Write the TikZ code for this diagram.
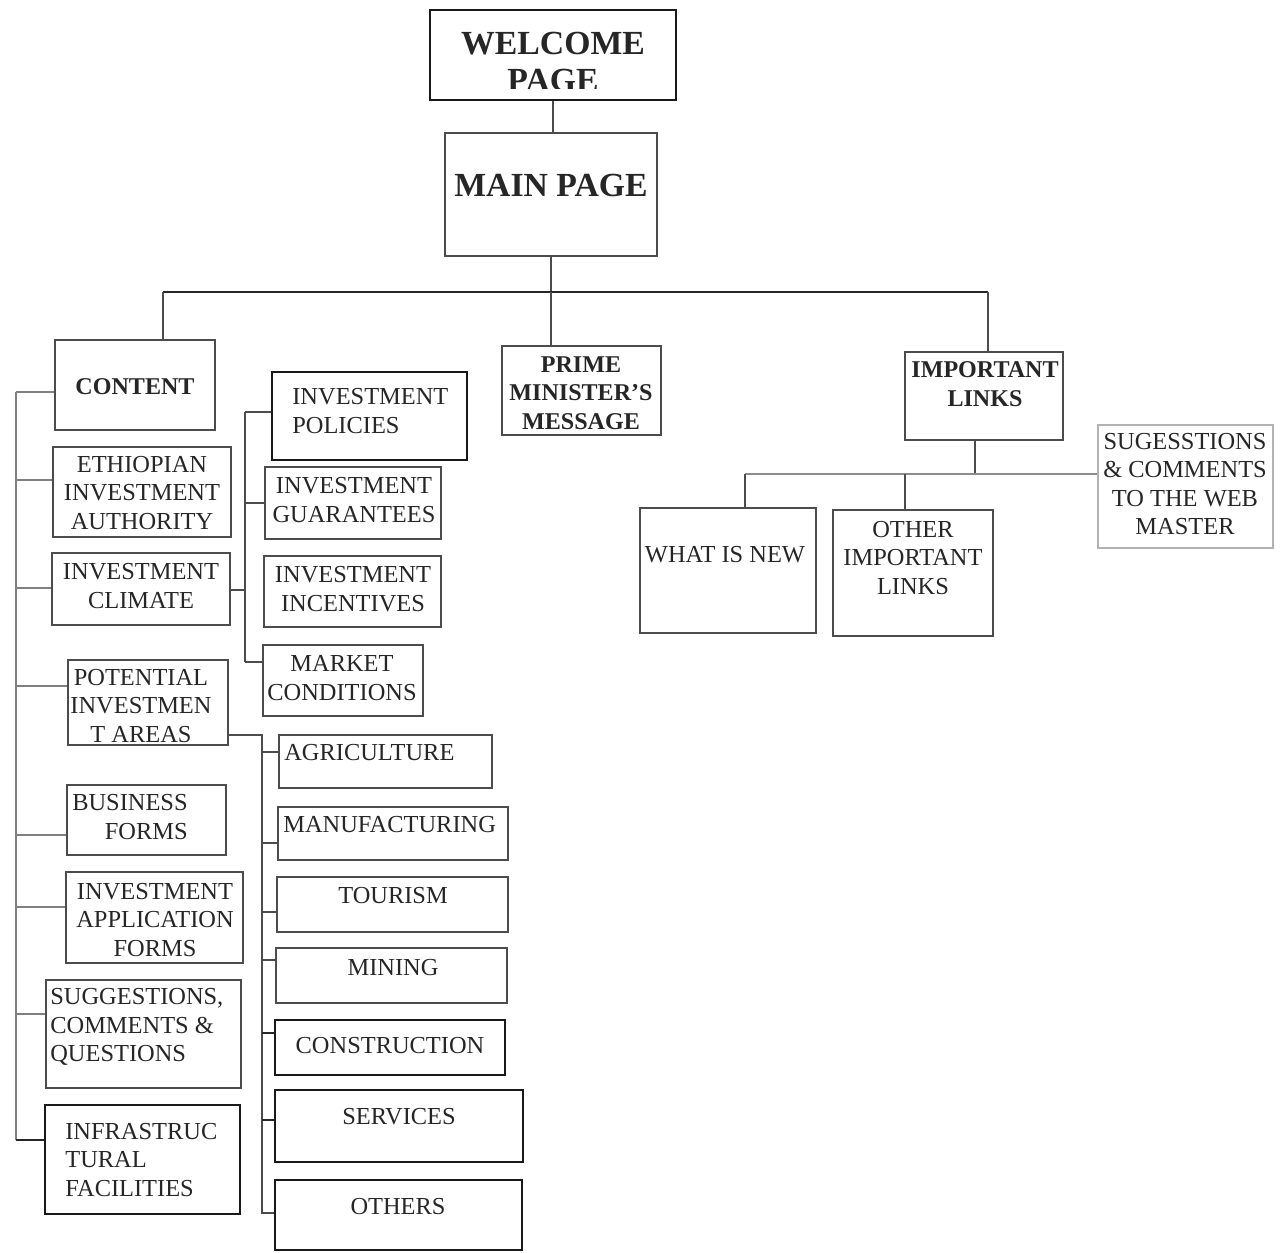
\documentclass[tikz,border=0pt]{standalone}
\usepackage{fontspec}
\setmainfont{Liberation Serif}
\usetikzlibrary{fit}
\begin{document}
\begin{tikzpicture}[x=0.02cm,y=-0.02cm,
  box/.style={draw=black!70,line width=0.7pt,inner sep=0pt,rectangle},
  darkbox/.style={draw=black!90,line width=1.2pt,inner sep=0pt,rectangle},
  lightbox/.style={draw=black!30,line width=0.6pt,inner sep=0pt,rectangle},
  txt/.style={inner sep=0pt,align=center,text=black!85,font=\fontsize{13.9}{16.2}\selectfont},
  btxt/.style={txt,font=\fontsize{13.7}{16.2}\selectfont\bfseries},
  bigtxt/.style={txt,font=\fontsize{19.2}{21.5}\selectfont\bfseries},
  conn/.style={draw=black!70,line width=0.7pt},
]
\useasboundingbox (0,0) rectangle (1284,1253);

% ---------- boxes ----------
\node[darkbox,fit={(430,10)(676,100)}] (welcome) {};
\node[box,fit={(445,133)(657,256)}] (main) {};
\node[box,fit={(55,340)(215,430)}] (content) {};
\node[box,fit={(502,346)(661,435)}] (prime) {};
\node[box,fit={(905,352)(1063,440)}] (links) {};
\node[lightbox,fit={(1098,425)(1273,548)}] (sugweb) {};
\node[box,fit={(640,508)(816,633)}] (whatnew) {};
\node[box,fit={(833,510)(993,636)}] (otherlinks) {};
\node[box,fit={(53,447)(231,537)}] (eia) {};
\node[box,fit={(52,553)(230,625)}] (climate) {};
\node[box,fit={(68,660)(228,745)}] (areas) {};
\node[box,fit={(67,785)(226,855)}] (business) {};
\node[box,fit={(66,872)(243,963)}] (application) {};
\node[box,fit={(46,980)(241,1088)}] (suggestions) {};
\node[darkbox,fit={(45,1105)(240,1214)}] (infra) {};
\node[darkbox,fit={(272,372)(467,460)}] (policies) {};
\node[box,fit={(265,467)(441,539)}] (guarantees) {};
\node[box,fit={(264,556)(441,627)}] (incentives) {};
\node[box,fit={(263,645)(423,716)}] (market) {};
\node[box,fit={(279,735)(492,788)}] (agri) {};
\node[box,fit={(278,807)(508,860)}] (manu) {};
\node[box,fit={(277,877)(508,932)}] (tourism) {};
\node[box,fit={(276,948)(507,1003)}] (mining) {};
\node[darkbox,fit={(275,1020)(505,1075)}] (constr) {};
\node[darkbox,fit={(275,1090)(523,1162)}] (services) {};
\node[darkbox,fit={(275,1180)(522,1250)}] (others) {};

% ---------- texts ----------
\begin{scope}
\clip (430,10) rectangle (676,89);
\node[bigtxt] (tWelcome) at (553,62) {WELCOME\\PAGE};
\end{scope}
\node[bigtxt] (tMain) at (551,185) {MAIN PAGE};
\node[btxt] (tContent) at (135,387) {CONTENT};
\node[btxt] (tPrime) at (581,393) {PRIME\\MINISTER’S\\MESSAGE};
\node[btxt] (tLinks) at (985,384) {IMPORTANT\\LINKS};
\node[txt] (tSugWeb) at (1185,484) {SUGESSTIONS\\\& COMMENTS\\TO THE WEB\\MASTER};
\node[txt] (tWhat) at (725,555) {WHAT IS NEW};
\node[txt] (tOther) at (913,558) {OTHER\\IMPORTANT\\LINKS};
\node[txt] (tEia) at (142,493) {ETHIOPIAN\\INVESTMENT\\AUTHORITY};
\node[txt] (tClimate) at (141,586) {INVESTMENT\\CLIMATE};
\node[txt] (tAreas) at (141,706) {POTENTIAL\\INVESTMEN\\T AREAS};
\node[txt,align=right,anchor=east] (tBusiness) at (188,817) {BUSINESS\\FORMS};
\node[txt] (tApp) at (155,920) {INVESTMENT\\APPLICATION\\FORMS};
\node[txt,align=left,anchor=west] (tSugg) at (50,1027) {SUGGESTIONS,\\COMMENTS \&\\QUESTIONS};
\node[txt,align=left,anchor=west] (tInfra) at (65,1160) {INFRASTRUC\\TURAL\\FACILITIES};
\node[txt,align=left,anchor=west] (tPolicies) at (292,411) {INVESTMENT\\POLICIES};
\node[txt] (tGuar) at (354,500) {INVESTMENT\\GUARANTEES};
\node[txt] (tInc) at (353,589) {INVESTMENT\\INCENTIVES};
\node[txt] (tMarket) at (342,678) {MARKET\\CONDITIONS};
\node[txt,anchor=west] (tAgri) at (284,753) {AGRICULTURE};
\node[txt,anchor=west] (tManu) at (283,825) {MANUFACTURING};
\node[txt] (tTour) at (393,896) {TOURISM};
\node[txt] (tMining) at (393,968) {MINING};
\node[txt] (tConstr) at (390,1046) {CONSTRUCTION};
\node[txt] (tServ) at (399,1117) {SERVICES};
\node[txt] (tOthers) at (398,1207) {OTHERS};

% ---------- top connectors ----------
\coordinate (bm) at (551,292);
\coordinate (bl) at (163,292);
\coordinate (br) at (988,292);
\draw[conn] (welcome.south) -- (welcome.south |- main.north);
\draw[conn] (main.south) -- (bm);
\draw[conn,draw=black!85,line width=1pt] (bl) -- (br);
\draw[conn] (bl) -- (bl |- content.north);
\draw[conn] (bm) -- (bm |- prime.north);
\draw[conn] (br) -- (br |- links.north);

% ---------- important links ----------
\coordinate (i0) at (975,474);
\coordinate (i1) at (745,474);
\coordinate (i2) at (905,474);
\draw[conn] (i0 |- links.south) -- (i0);
\draw[conn,draw=black!45] (i1) -- (i1 -| sugweb.west);
\draw[conn] (i1) -- (i1 |- whatnew.north);
\draw[conn] (i2) -- (i2 |- otherlinks.north);

% ---------- left spine ----------
\coordinate (L0) at (16,392);
\coordinate (L1) at (16,480);
\coordinate (L2) at (16,588);
\coordinate (L3) at (16,686);
\coordinate (L4) at (16,835);
\coordinate (L5) at (16,907);
\coordinate (L6) at (16,1014);
\coordinate (L7) at (16,1140);
\draw[conn,draw=black!50] (L0) -- (L7);
\draw[conn,draw=black!50] (L0) -- (L0 -| content.west);
\draw[conn,draw=black!50] (L1) -- (L1 -| eia.west);
\draw[conn,draw=black!50] (L2) -- (L2 -| climate.west);
\draw[conn,draw=black!50] (L3) -- (L3 -| areas.west);
\draw[conn,draw=black!50] (L4) -- (L4 -| business.west);
\draw[conn,draw=black!50] (L5) -- (L5 -| application.west);
\draw[conn,draw=black!50] (L6) -- (L6 -| suggestions.west);
\draw[conn,draw=black!85] (L7) -- (L7 -| infra.west);

% ---------- investment climate spine ----------
\coordinate (P0) at (245,412);
\coordinate (P1) at (245,503);
\coordinate (P2) at (245,590);
\coordinate (P3) at (245,662);
\draw[conn] (P0) -- (P3);
\draw[conn] (P0) -- (P0 -| policies.west);
\draw[conn] (P1) -- (P1 -| guarantees.west);
\draw[conn] (P2 -| climate.east) -- (P2);
\draw[conn] (P3) -- (P3 -| market.west);

% ---------- sector spine ----------
\coordinate (S0) at (262,735);
\coordinate (S1) at (262,752);
\coordinate (S2) at (262,843);
\coordinate (S3) at (262,912);
\coordinate (S4) at (262,960);
\coordinate (S5) at (262,1033);
\coordinate (S6) at (262,1120);
\coordinate (S7) at (262,1213);
\draw[conn] (S0 -| areas.east) -- (S0) -- (S7) -- (S7 -| others.west);
\draw[conn] (S1) -- (S1 -| agri.west);
\draw[conn] (S2) -- (S2 -| manu.west);
\draw[conn] (S3) -- (S3 -| tourism.west);
\draw[conn] (S4) -- (S4 -| mining.west);
\draw[conn,draw=black!85] (S5) -- (S5 -| constr.west);
\draw[conn,draw=black!85] (S6) -- (S6 -| services.west);
\end{tikzpicture}
\end{document}
